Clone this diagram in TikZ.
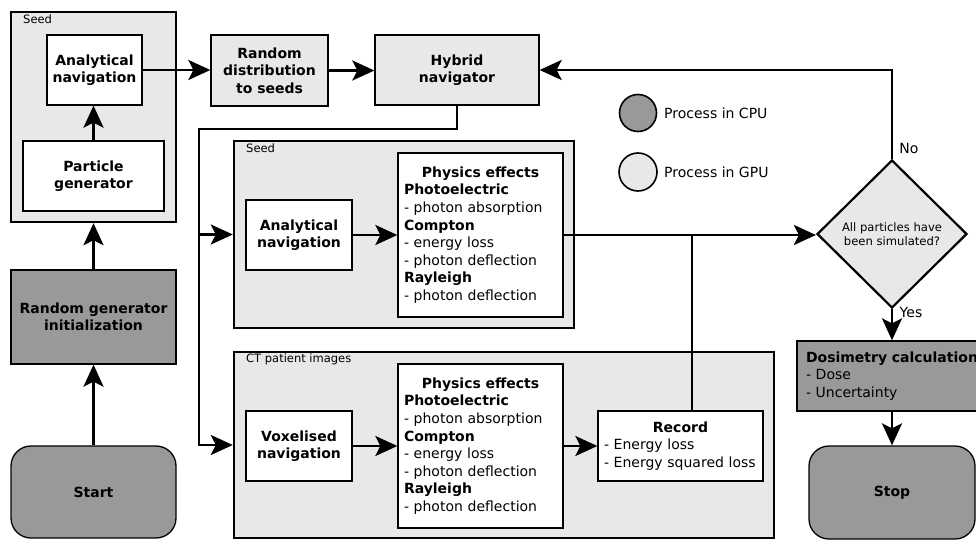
\documentclass[tikz,border=0pt]{standalone}
\usepackage{fontspec}
\setmainfont{DejaVu Sans}
\usetikzlibrary{arrows.meta,shapes.geometric,calc}
\definecolor{lightg}{HTML}{E8E8E8}
\definecolor{darkg}{HTML}{999999}
\begin{document}
\begin{tikzpicture}[x=1pt,y=-1pt,
  box/.style={draw, line width=1.3pt, inner sep=0pt, align=center, font=\fontsize{14}{17.5}\selectfont\bfseries},
  wbox/.style={box, fill=white},
  lbox/.style={box, fill=lightg},
  dbox/.style={box, fill=darkg},
  rbox/.style={dbox, rounded corners=20pt},
  group/.style={draw, line width=2.4pt, fill=lightg, inner sep=0pt},
  grplabel/.style={font=\fontsize{11.5}{14}\selectfont, anchor=west, inner sep=0pt},
  txtbox/.style={draw, line width=1.3pt, fill=white, inner xsep=6pt, inner ysep=0pt, align=left, font=\fontsize{14}{17.6}\selectfont},
  lbl/.style={font=\fontsize{14}{17}\selectfont, inner sep=0pt},
  conn/.style={line width=2.6pt},
  arr/.style={conn, -{Stealth[length=22pt,width=20pt,inset=5pt]}},
]
\useasboundingbox (0,0) rectangle (976,540);
\clip (0,0) rectangle (976,540);

% group boxes
\node[group, minimum width=165pt, minimum height=210pt] (seedA) at (93.5,117) {};
\node[grplabel] (seedAl) at (23,19) {Seed};
\node[group, minimum width=340pt, minimum height=187pt] (seedB) at (404,234.5) {};
\node[grplabel] (seedBl) at (246,148) {Seed};
\node[group, minimum width=540pt, minimum height=186pt] (ct) at (504,445) {};
\node[grplabel] (ctl) at (246,359) {CT patient images};

% left column
\node[wbox, minimum width=95pt, minimum height=70pt] (analA) at (94.5,70) {Analytical\\navigation};
\node[wbox, minimum width=141pt, minimum height=70pt] (partgen) at (93.5,176) {Particle\\generator};
\node[dbox, minimum width=165pt, minimum height=94pt] (rgi) at (93.5,317) {Random generator\\initialization};
\node[rbox, minimum width=165pt, minimum height=92pt] (start) at (93.5,492) {Start};

% top row
\node[lbox, minimum width=117pt, minimum height=71pt] (rds) at (269.5,70.5) {Random\\distribution\\to seeds};
\node[lbox, minimum width=164pt, minimum height=70pt] (hyb) at (457,70) {Hybrid\\navigator};

% seed block
\node[wbox, minimum width=106pt, minimum height=70pt] (analB) at (299,235) {Analytical\\navigation};
\node[txtbox, text width=153pt, minimum height=164pt] (physA) at (480.5,235)
  {\makebox[\linewidth][c]{\textbf{Physics effects}}\\ \textbf{Photoelectric}\\ - photon absorption\\ \textbf{Compton}\\ - energy loss\\ - photon deflection\\ \textbf{Rayleigh}\\ - photon deflection};

% CT block
\node[wbox, minimum width=106pt, minimum height=70pt] (vox) at (299,446) {Voxelised\\navigation};
\node[txtbox, text width=153pt, minimum height=164pt] (physB) at (480.5,446)
  {\makebox[\linewidth][c]{\textbf{Physics effects}}\\ \textbf{Photoelectric}\\ - photon absorption\\ \textbf{Compton}\\ - energy loss\\ - photon deflection\\ \textbf{Rayleigh}\\ - photon deflection};
\node[txtbox, text width=153pt, minimum height=70pt] (record) at (680.5,446)
  {\makebox[\linewidth][c]{\textbf{Record}}\\ - Energy loss\\ - Energy squared loss};

% legend
\node[circle, draw, line width=1.6pt, fill=darkg, minimum size=37pt, inner sep=0pt] (cpu) at (638,113) {};
\node[lbl, anchor=west] (cpul) at (664,113) {Process in CPU};
\node[circle, draw, line width=1.6pt, fill=lightg, minimum size=38pt, inner sep=0pt] (gpu) at (638,172) {};
\node[lbl, anchor=west] (gpul) at (664,172) {Process in GPU};

% decision and right column
\node[diamond, draw, line width=2.2pt, fill=lightg, minimum width=150pt, minimum height=148pt, inner sep=0pt, align=center, font=\fontsize{11.6}{14}\selectfont] (dec) at (892,234) {All particles have\\been simulated?};
\node[txtbox, fill=darkg, inner xsep=9pt, text width=175pt, minimum height=70pt] (dosim) at (893.5,376)
  {\textbf{Dosimetry calculation}\\ - Dose\\ - Uncertainty};
\node[rbox, minimum width=166pt, minimum height=93pt] (stop) at (892,492.5) {Stop};
\node[lbl] (no) at (909,148) {No};
\node[lbl] (yes) at (911,312) {Yes};

% connectors
\draw[arr] (partgen.north) -- (partgen.north |- analA.south);
\draw[arr] (rgi.north) -- (seedA.south);
\draw[arr] (start.north) -- (rgi.south);
\draw[arr] (analA.east) -- (analA.east -| rds.west);
\draw[arr] (rds.east) -- (rds.east -| hyb.west);
\coordinate (jn) at (199,129);
\draw[arr] (hyb.south) |- (jn) |- (ct.west);
\draw[arr] (jn |- seedB.west) -- (seedB.west);
\draw[arr] (analB.east) -- (analB.east -| physA.west);
\draw[arr] (physA.east) -- (physA.east -| dec.west);
\coordinate (rtop) at ($(record.north)+(11.5,0)$);
\draw[conn] (rtop) -- (rtop |- physA.east);
\draw[arr] (vox.east) -- (vox.east -| physB.west);
\draw[arr] (physB.east) -- (physB.east -| record.west);
\draw[arr] (dec.north) |- (hyb.east);
\draw[arr] (dec.south) -- (dec.south |- dosim.north);
\draw[arr] (stop.north |- dosim.south) -- (stop.north);
\end{tikzpicture}
\end{document}
